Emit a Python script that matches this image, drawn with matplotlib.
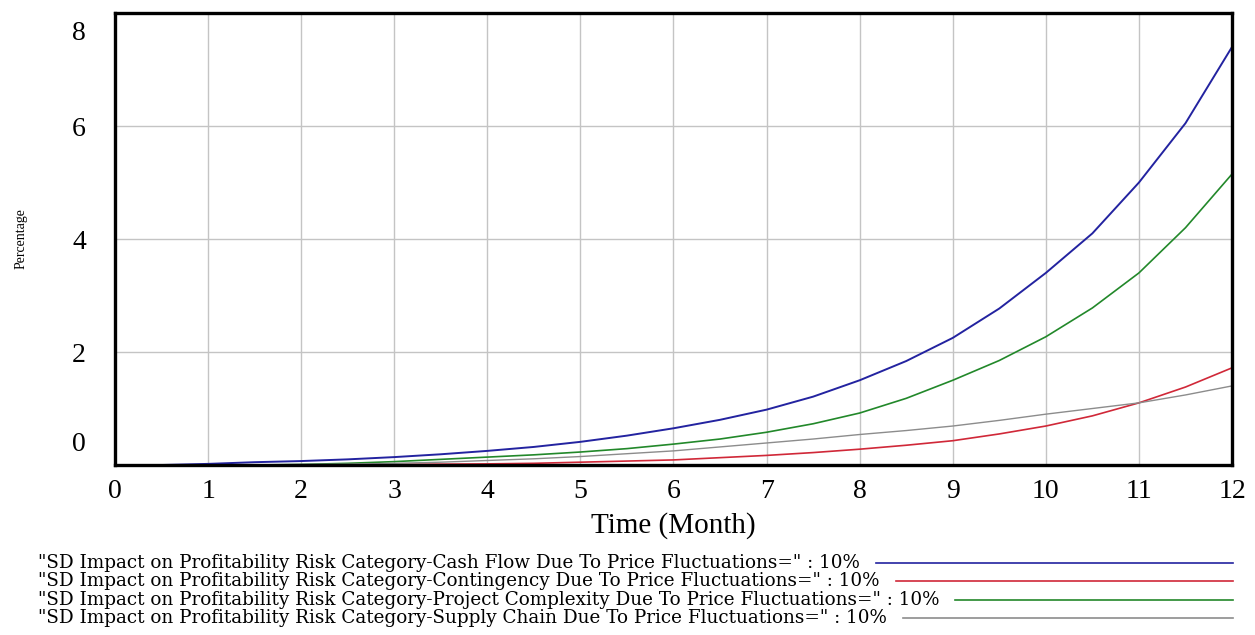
import matplotlib.pyplot as plt
from matplotlib.lines import Line2D

plt.rcParams["font.family"] = ["Liberation Serif", "DejaVu Serif"]

# time in months, half-month steps
months = [0, 0.5, 1, 1.5, 2, 2.5, 3, 3.5, 4, 4.5, 5, 5.5, 6,
          6.5, 7, 7.5, 8, 8.5, 9, 9.5, 10, 10.5, 11, 11.5, 12]

cash_flow = [0, 0, 0.02, 0.05, 0.07, 0.10, 0.14, 0.19, 0.25, 0.32, 0.41, 0.52, 0.65,
             0.80, 0.98, 1.21, 1.50, 1.84, 2.25, 2.77, 3.40, 4.10, 5.00, 6.05, 7.40]
contingency = [0, 0, 0, 0, 0, 0, 0.01, 0.015, 0.02, 0.03, 0.05, 0.07, 0.09,
               0.13, 0.17, 0.22, 0.28, 0.35, 0.43, 0.55, 0.69, 0.87, 1.10, 1.38, 1.72]
complexity = [0, 0, 0, 0, 0.01, 0.03, 0.06, 0.10, 0.14, 0.18, 0.23, 0.29, 0.37,
              0.46, 0.58, 0.73, 0.92, 1.18, 1.50, 1.85, 2.27, 2.78, 3.40, 4.20, 5.15]
supply_chain = [0, 0, 0, 0, 0.01, 0.015, 0.03, 0.05, 0.08, 0.11, 0.15, 0.20, 0.25,
                0.32, 0.39, 0.46, 0.54, 0.61, 0.69, 0.79, 0.90, 1.00, 1.10, 1.24, 1.40]

labels = [
    '"SD Impact on Profitability Risk Category-Cash Flow Due To Price Fluctuations=" : 10%',
    '"SD Impact on Profitability Risk Category-Contingency Due To Price Fluctuations=" : 10%',
    '"SD Impact on Profitability Risk Category-Project Complexity Due To Price Fluctuations=" : 10%',
    '"SD Impact on Profitability Risk Category-Supply Chain Due To Price Fluctuations=" : 10%',
]
colors = ["#2323a0", "#d02838", "#22882a", "#8c8c8c"]
series = [cash_flow, contingency, complexity, supply_chain]
widths = [1.4, 1.2, 1.2, 1.0]

fig = plt.figure(figsize=(12.55, 6.35), dpi=100)
ax = fig.add_axes([0.0916, 0.2677, 0.8901, 0.7118])

for vals, c, w in zip(series, colors, widths):
    ax.plot(months, vals, color=c, lw=w)

ax.set_xlim(0, 12)
ax.set_ylim(0, 8)
ax.set_xticks(range(13))
ax.set_yticks([0, 2, 4, 6, 8])
ax.set_yticklabels(["", "2", "4", "6", ""])
ax.grid(True, color="#c4c4c4", lw=1)
ax.set_axisbelow(True)
for s in ax.spines.values():
    s.set_linewidth(2.4)
ax.tick_params(length=0, labelsize=20, pad=10)
ax.tick_params(axis="y", pad=21)
# end labels sit inside the axis range, as in the original
ax.annotate("8", xy=(0, 8), xycoords="data", xytext=(-26, -15), textcoords="offset points",
            fontsize=20, ha="center", va="center", annotation_clip=False)
ax.annotate("0", xy=(0, 0), xycoords="data", xytext=(-26, 15), textcoords="offset points",
            fontsize=20, ha="center", va="center", annotation_clip=False)
ax.set_xlabel("Time (Month)", fontsize=21, labelpad=6)
ax.set_ylabel("Percentage", fontsize=10)
ax.yaxis.set_label_coords(-0.078, 0.5)

# legend rows under the plot: text then a coloured line to the right edge
fig.canvas.draw()
r = fig.canvas.get_renderer()
probe = fig.text(0, 0, labels[0], fontsize=10, family="DejaVu Serif")
w10 = probe.get_window_extent(renderer=r).width
probe.remove()
legend_size = 10 * 824 / w10

row_y = [563, 581, 600, 618]
for lab, c, y in zip(labels, colors, row_y):
    t = fig.text(38 / 1255, 1 - y / 635, lab, fontsize=legend_size, family="DejaVu Serif",
                 va="center", ha="left")
    bb = t.get_window_extent(renderer=r)
    x0 = (bb.x1 + 16) / 1255
    fig.add_artist(Line2D([x0, 1233 / 1255], [1 - y / 635, 1 - y / 635],
                          color=c, lw=1.2, transform=fig.transFigure))

fig.savefig("out.png", dpi=100)
